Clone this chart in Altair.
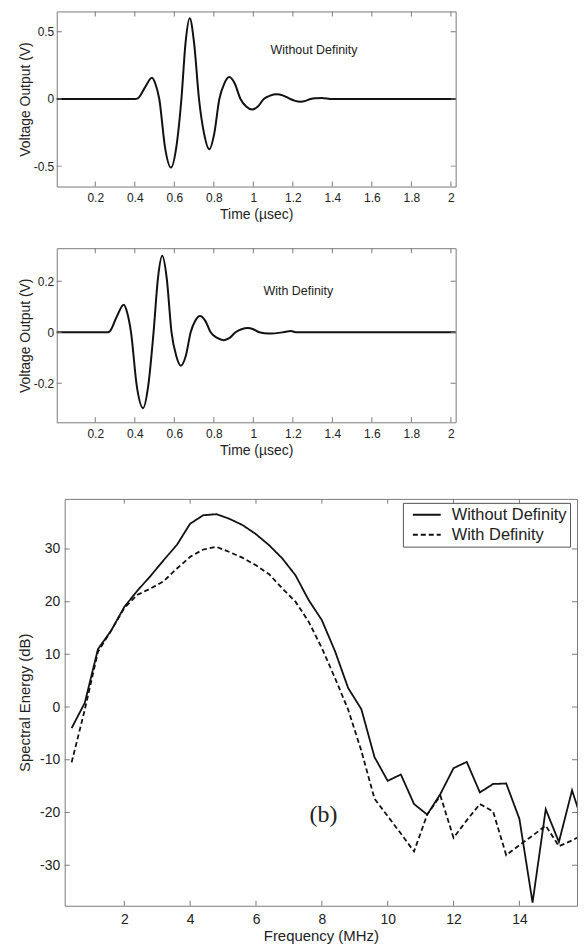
import altair as alt
import pandas as pd

# ---------------- data ----------------
# top panel: Without Definity (time in usec, voltage in V)
time_without = [0.0, 0.40, 0.415, 0.451, 0.487, 0.505, 0.524, 0.553, 0.583, 0.61, 0.636,
                0.657, 0.678, 0.70, 0.725, 0.751, 0.777, 0.802, 0.828, 0.853, 0.878, 0.906,
                0.935, 0.964, 0.994, 1.023, 1.053, 1.085, 1.117, 1.152, 1.187, 1.212, 1.238,
                1.265, 1.29, 1.318, 1.345, 1.40, 2.03]
volt_without = [0.0, 0.0, 0.005, 0.085, 0.158, 0.11, 0.0, -0.36, -0.511, -0.36, 0.0,
                0.42, 0.602, 0.42, 0.0, -0.26, -0.375, -0.26, 0.0, 0.115, 0.163, 0.115,
                0.0, -0.056, -0.079, -0.056, 0.0, 0.025, 0.035, 0.025, 0.0, -0.014, -0.02,
                -0.014, 0.0, 0.006, 0.008, 0.0, 0.0]

# middle panel: With Definity
time_with = [0.0, 0.26, 0.272, 0.308, 0.344, 0.362, 0.381, 0.41, 0.442, 0.468, 0.495,
             0.517, 0.539, 0.562, 0.586, 0.61, 0.633, 0.658, 0.683, 0.706, 0.730, 0.757,
             0.784, 0.817, 0.851, 0.88, 0.910, 0.94, 0.972, 1.0, 1.03, 1.08, 1.15, 1.19,
             1.22, 2.03]
volt_with = [0.0, 0.0, 0.003, 0.06, 0.108, 0.076, 0.0, -0.21, -0.297, -0.21, 0.0,
             0.21, 0.300, 0.21, 0.0, -0.093, -0.131, -0.093, 0.0, 0.045, 0.064, 0.045,
             0.0, -0.022, -0.031, -0.022, 0.0, 0.012, 0.017, 0.012, 0.0, -0.005, 0.0, 0.005,
             0.0, 0.0]

# bottom panel: spectra (MHz, dB)
freq = [0.4, 0.8, 1.2, 1.6, 2.0, 2.4, 2.8, 3.2, 3.6, 4.0, 4.4, 4.8, 5.2, 5.6, 6.0, 6.4,
        6.8, 7.2, 7.6, 8.0, 8.4, 8.8, 9.2, 9.6, 10.0, 10.4, 10.8, 11.2, 11.6, 12.0, 12.4,
        12.8, 13.2, 13.6, 14.0, 14.4, 14.8, 15.2, 15.6, 16.0]
db_without = [-4.0, 0.8, 11.0, 14.5, 19.0, 22.1, 24.9, 27.9, 30.8, 34.8, 36.4, 36.6, 35.7,
              34.5, 32.8, 30.7, 28.2, 25.0, 20.3, 16.5, 10.6, 3.6, -0.4, -9.5, -14.0, -12.8,
              -18.4, -20.4, -16.5, -11.6, -10.4, -16.2, -14.6, -14.5, -21.2, -37.1, -19.4,
              -25.6, -15.8, -23.5]
db_with = [-10.5, -0.5, 10.5, 14.5, 18.8, 21.3, 22.5, 23.9, 26.3, 28.5, 29.9, 30.4, 29.4,
           28.3, 26.9, 25.2, 22.5, 20.0, 16.2, 11.2, 5.5, -0.5, -8.3, -17.4, -20.7, -24.0,
           -27.4, -20.4, -16.8, -24.8, -21.5, -18.4, -19.8, -28.1, -26.2, -24.4, -22.5,
           -26.4, -25.3, -24.0]
series_names = ["Without Definity", "With Definity"]

# tick values and axis ranges
time_ticks = [0.2, 0.4, 0.6, 0.8, 1.0, 1.2, 1.4, 1.6, 1.8, 2.0]
volt1_ticks = [-0.5, 0, 0.5]
volt2_ticks = [-0.2, 0, 0.2]
freq_ticks = [2, 4, 6, 8, 10, 12, 14]
db_ticks = [-30, -20, -10, 0, 10, 20, 30]
time_range = [0.005, 2.024]
volt1_range = [-0.652, 0.652]
volt2_range = [-0.353, 0.33]
freq_range = [0.19, 15.75]
db_range = [-37.7, 39.5]

# annotations
note1 = {"t": [1.307], "v": [0.368], "label": ["Without Definity"]}
note2 = {"t": [1.228], "v": [0.163], "label": ["With Definity"]}
note3 = {"f": [8.05], "db": [-20.4], "label": ["(b)"]}

# ---------------- styling ----------------
FONT = "Liberation Sans, Arial, Helvetica, sans-serif"
FRAME = "#7a7a7a"
INK = "#111111"
TXT = "#222222"
LBL = "replace(format(datum.value, '~g'), '\u2212', '-')"


def encodings(xf, yf, xdom, ydom, xt, yt, xtitle, ytitle, lsize, tsize, xlp, ylp, xtp, ytp):
    xa = alt.Axis(orient="bottom", values=xt, ticks=False, domain=False, grid=False,
                  labelPadding=xlp, labelFontSize=lsize, labelExpr=LBL, labelFlush=False,
                  title=xtitle, titleFontSize=tsize, titlePadding=xtp)
    ya = alt.Axis(orient="left", values=yt, ticks=False, domain=False, grid=False,
                  labelPadding=ylp, labelFontSize=lsize, labelExpr=LBL, labelFlush=False,
                  title=ytitle, titleFontSize=tsize, titlePadding=ytp)
    xs = alt.Scale(domain=xdom, nice=False, zero=False)
    ys = alt.Scale(domain=ydom, nice=False, zero=False)
    return alt.X(f"{xf}:Q", scale=xs, axis=xa), alt.Y(f"{yf}:Q", scale=ys, axis=ya)


def frame_ticks(xf, yf, xdom, ydom, xt, yt, xe, ye):
    """Inward MATLAB-style ticks on all four sides (outer half of each tick is clipped)."""
    vdf = pd.DataFrame({xf: xt + xt, yf: [ydom[0]] * len(xt) + [ydom[1]] * len(xt)})
    hdf = pd.DataFrame({xf: [xdom[0]] * len(yt) + [xdom[1]] * len(yt), yf: yt + yt})
    v = alt.Chart(vdf).mark_tick(orient="vertical", size=10, thickness=1, color=FRAME,
                                 clip=True, opacity=1).encode(x=xe, y=ye)
    h = alt.Chart(hdf).mark_tick(orient="horizontal", size=10, thickness=1, color=FRAME,
                                 clip=True, opacity=1).encode(x=xe, y=ye)
    return [v, h]


def wave_panel(times, volts, ydom, yticks, note, h):
    df = pd.DataFrame({"t": times, "v": volts})
    xe, ye = encodings("t", "v", time_range, ydom, time_ticks, yticks,
                       "Time (\u00b5sec)", "Voltage Output (V)", 12, 14, 6, 3, 4, 1)
    line = alt.Chart(df).mark_line(color=INK, strokeWidth=2, interpolate="monotone",
                                   clip=True).encode(x=xe, y=ye)
    txt = alt.Chart(pd.DataFrame(note)).mark_text(
        font=FONT, fontSize=12.5, color=TXT, align="center", baseline="middle").encode(
        x=xe, y=ye, text="label:N")
    layers = [line, txt] + frame_ticks("t", "v", time_range, ydom, time_ticks, yticks, xe, ye)
    return alt.layer(*layers).properties(width=401, height=h)


def spacer(w, h):
    return alt.Chart(pd.DataFrame({"a": [0]})).mark_point(opacity=0, size=0).encode(
        x=alt.X("a:Q", axis=None), y=alt.Y("a:Q", axis=None)).properties(
        width=w, height=h, view=alt.ViewBackground(stroke="transparent"))


p1 = wave_panel(time_without, volt_without, volt1_range, volt1_ticks, note1, 176)
p2 = wave_panel(time_with, volt_with, volt2_range, volt2_ticks, note2, 175)

# spectrum panel
spec = pd.DataFrame({
    "f": freq + freq,
    "db": db_without + db_with,
    "series": [series_names[0]] * len(freq) + [series_names[1]] * len(freq),
})
xe3, ye3 = encodings("f", "db", freq_range, db_range, freq_ticks, db_ticks,
                     "Frequency (MHz)", "Spectral Energy (dB)", 14, 15, 7, 5, 2, 7)
spec_line = alt.Chart(spec).mark_line(color=INK, strokeWidth=1.8, clip=True).encode(
    x=xe3,
    y=ye3,
    strokeDash=alt.StrokeDash(
        "series:N",
        scale=alt.Scale(domain=series_names, range=[[1, 0], [5, 3]]),
        legend=alt.Legend(title=None, orient="none", legendX=396, legendY=494,
                          symbolType="M-1.75,0H1.75", symbolSize=256, symbolStrokeWidth=2,
                          symbolStrokeColor=INK, symbolOffset=12, labelFontSize=16.5,
                          labelFont=FONT, labelColor=TXT, labelOffset=16, padding=3,
                          rowPadding=2, strokeColor="#555555", fillColor="white")),
    order=alt.Order("f:Q"),
)
spec_note = alt.Chart(pd.DataFrame(note3)).mark_text(
    font="Liberation Serif, Times New Roman, serif", fontSize=24, color=TXT,
    align="center", baseline="middle").encode(x=xe3, y=ye3, text="label:N")
p3 = alt.layer(
    spec_line, spec_note,
    *frame_ticks("f", "db", freq_range, db_range, freq_ticks, db_ticks, xe3, ye3)
).properties(width=515, height=409)

row1 = alt.hconcat(spacer(7, 176), p1, spacing=0)
row3 = alt.hconcat(spacer(7, 175), p2, spacing=0)
row5 = alt.hconcat(spacer(7, 409), p3, spacing=0)

chart = alt.vconcat(row1, spacer(1, 23), row3, spacer(1, 38), row5, spacing=0).properties(
    padding={"left": 0, "top": 0, "right": 0, "bottom": 0},
    background="white",
).configure_view(stroke=FRAME, strokeWidth=1).configure_axis(
    labelFont=FONT, titleFont=FONT, labelColor=TXT, titleColor=TXT,
    titleFontWeight="normal",
)

chart.save("out.html", embed_options={"renderer": "svg", "actions": False})
